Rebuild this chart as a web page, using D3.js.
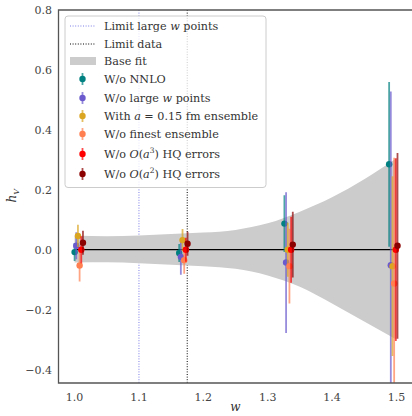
<!DOCTYPE html>
<html><head><meta charset="utf-8">
<script src="https://cdn.jsdelivr.net/npm/d3@7"></script>
<style>body{margin:0;background:#fff}svg{display:block}</style>
</head><body>
<script>
// ---- data ----
const seriesNames = ["W/o NNLO","W/o large w points","With a = 0.15 fm ensemble","W/o finest ensemble","W/o O(a3) HQ errors","W/o O(a2) HQ errors"];
const seriesColors = ["#008080","#6a5acd","#daa520","#ff7f50","#ff0000","#8b0000"];
const groupW = [1.0, 1.1625, 1.326, 1.4887];
const seriesOffset = [0, 0.0026, 0.0052, 0.0078, 0.0104, 0.013];
const yNNLO   = [-0.008, -0.011, 0.087, 0.285];
const eNNLO   = [0.03, 0.03, 0.095, 0.275];
const yLargeW = [0.013, -0.024, -0.043, -0.052];
const eLargeW = [0.045, 0.06, 0.235, 0.58];
const yA015   = [0.046, 0.032, 0.0, -0.055];
const eA015   = [0.037, 0.037, 0.09, 0.30];
const yFinest = [-0.053, -0.035, -0.055, -0.113];
const eFinest = [0.053, 0.045, 0.125, 0.42];
const yA3     = [0.0, 0.0, 0.0, 0.0];
const eA3     = [0.045, 0.04, 0.11, 0.305];
const yA2     = [0.023, 0.02, 0.017, 0.013];
const eA2     = [0.04, 0.04, 0.11, 0.31];
const bandW     = [1.0, 1.05, 1.1, 1.15, 1.2, 1.25, 1.3, 1.35, 1.4, 1.45, 1.5];
const bandUpper = [0.047, 0.045, 0.047, 0.052, 0.057, 0.066, 0.088, 0.127, 0.175, 0.235, 0.305];
const bandLower = [-0.043, -0.042, -0.045, -0.05, -0.055, -0.064, -0.086, -0.124, -0.18, -0.24, -0.30];
const limitLargeW = 1.1;
const limitData = 1.175;
const xTicks = [1.0, 1.1, 1.2, 1.3, 1.4, 1.5];
const yTicks = [-0.4, -0.2, 0.0, 0.2, 0.4, 0.6, 0.8];

const yVals = [yNNLO, yLargeW, yA015, yFinest, yA3, yA2];
const eVals = [eNNLO, eLargeW, eA015, eFinest, eA3, eA2];

// ---- layout ----
const W = 412, H = 416;
const L = 58.5, R = 412.5, T = 10, B = 383;
const FONT = '"DejaVu Serif", serif';
const svg = d3.select("body").append("svg").attr("width", W).attr("height", H);
const x = d3.scaleLinear().domain([0.975, 1.525]).range([L, R]);
const y = d3.scaleLinear().domain([-0.445, 0.8]).range([B, T]);

svg.append("clipPath").attr("id","clip").append("rect")
  .attr("x", L).attr("y", T).attr("width", R - L).attr("height", B - T);
const plot = svg.append("g").attr("clip-path","url(#clip)");

// vertical limit lines
plot.append("line").attr("x1", x(limitLargeW)).attr("x2", x(limitLargeW)).attr("y1", T).attr("y2", B)
  .attr("stroke", "#5050e0").attr("stroke-opacity", 0.75).attr("stroke-width", 1).attr("stroke-dasharray", "1,1.6");
plot.append("line").attr("x1", x(limitData)).attr("x2", x(limitData)).attr("y1", T).attr("y2", B)
  .attr("stroke", "#000").attr("stroke-width", 1).attr("stroke-dasharray", "1,1.6");

// band
const bandData = bandW.map((w, i) => ({w, lo: bandLower[i], hi: bandUpper[i]}));
plot.append("path").datum(bandData)
  .attr("d", d3.area().x(d => x(d.w)).y0(d => y(d.lo)).y1(d => y(d.hi)).curve(d3.curveMonotoneX))
  .attr("fill", "#cccccc");
plot.append("line").attr("x1", x(bandW[0])).attr("x2", x(bandW[bandW.length-1]))
  .attr("y1", y(0)).attr("y2", y(0)).attr("stroke", "#000").attr("stroke-width", 1.2);

// error bars
seriesNames.forEach((name, s) => {
  const g = plot.append("g");
  groupW.forEach((gw, i) => {
    const wx = x(gw + seriesOffset[s]);
    g.append("line").attr("x1", wx).attr("x2", wx)
      .attr("y1", y(yVals[s][i] - eVals[s][i])).attr("y2", y(yVals[s][i] + eVals[s][i]))
      .attr("stroke", seriesColors[s]).attr("stroke-opacity", 0.7).attr("stroke-width", 1.8);
  });
  groupW.forEach((gw, i) => {
    g.append("circle").attr("cx", x(gw + seriesOffset[s])).attr("cy", y(yVals[s][i])).attr("r", 3.2)
      .attr("fill", seriesColors[s]);
  });
});

// spines
const spine = svg.append("g").attr("stroke", "#555").attr("stroke-width", 1.3).attr("fill", "none");
spine.append("path").attr("d", `M${R},${T}H${L}V${B}H${R}`);

// ticks
const tickG = svg.append("g").style("font-family", FONT).style("font-size", "11px").attr("fill", "#444");
xTicks.forEach(t => tickG.append("text").attr("x", x(t)).attr("y", 401).attr("text-anchor","middle").text(t.toFixed(1)));
yTicks.forEach(t => tickG.append("text").attr("x", 52).attr("y", y(t) + 4).attr("text-anchor","end")
  .text((t < 0 ? "\u2212" : "") + Math.abs(t).toFixed(1)));

// axis labels
svg.append("text").attr("x", x(1.25)).attr("y", 411).attr("text-anchor","middle")
  .style("font-family", FONT).style("font-size", "12px").attr("font-style","italic").attr("fill","#333").text("w");
const yl = svg.append("text").attr("transform", `translate(16,${y(0.18)}) rotate(-90)`).attr("text-anchor","middle")
  .style("font-family", FONT).style("font-size", "12px").attr("fill","#333");
yl.append("tspan").attr("font-style","italic").text("h");
yl.append("tspan").attr("font-style","italic").style("font-size", "8px").attr("dy", 3).text("V");

// legend
const lg = svg.append("g");
lg.append("rect").attr("x", 65).attr("y", 16).attr("width", 201).attr("height", 171.5).attr("rx", 3)
  .attr("fill", "#fff").attr("fill-opacity", 0.8).attr("stroke", "#ccc").attr("stroke-width", 1);
const rowY = [26, 44, 61, 79, 98, 116, 134, 154, 174];
const tx = 104;
function label(yy, parts) {
  const t = lg.append("text").attr("x", tx).attr("y", yy + 4).style("font-family", FONT).style("font-size", "11.2px").attr("fill", "#333");
  parts.forEach(p => {
    const sp = t.append("tspan").text(p.t);
    if (p.i) sp.attr("font-style", "italic");
    if (p.sup) sp.style("font-size", "7.5px").attr("dy", -5);
    if (p.down) sp.attr("dy", 5);
  });
}
lg.append("line").attr("x1", 70).attr("x2", 96).attr("y1", rowY[0]).attr("y2", rowY[0])
  .attr("stroke", "#5050e0").attr("stroke-opacity", 0.75).attr("stroke-width", 1).attr("stroke-dasharray", "1,1.6");
label(rowY[0], [{t:"Limit large "},{t:"w",i:1},{t:" points"}]);
lg.append("line").attr("x1", 70).attr("x2", 96).attr("y1", rowY[1]).attr("y2", rowY[1])
  .attr("stroke", "#000").attr("stroke-width", 1).attr("stroke-dasharray", "1,1.6");
label(rowY[1], [{t:"Limit data"}]);
lg.append("rect").attr("x", 70).attr("y", rowY[2] - 4).attr("width", 26).attr("height", 8).attr("fill", "#cccccc");
label(rowY[2], [{t:"Base fit"}]);
const legendParts = [
  [{t:"W/o NNLO"}],
  [{t:"W/o large "},{t:"w",i:1},{t:" points"}],
  [{t:"With "},{t:"a",i:1},{t:" = 0.15 fm ensemble"}],
  [{t:"W/o finest ensemble"}],
  [{t:"W/o "},{t:"O",i:1},{t:"("},{t:"a",i:1},{t:"3",sup:1},{t:") HQ errors",down:1}],
  [{t:"W/o "},{t:"O",i:1},{t:"("},{t:"a",i:1},{t:"2",sup:1},{t:") HQ errors",down:1}]
];
seriesNames.forEach((n, s) => {
  const yy = rowY[3 + s];
  lg.append("line").attr("x1", 82.5).attr("x2", 82.5).attr("y1", yy - 6).attr("y2", yy + 6)
    .attr("stroke", seriesColors[s]).attr("stroke-opacity", 0.7).attr("stroke-width", 1.8);
  lg.append("circle").attr("cx", 82.5).attr("cy", yy).attr("r", 3.2).attr("fill", seriesColors[s]);
  label(yy, legendParts[s]);
});
</script>
</body></html>
